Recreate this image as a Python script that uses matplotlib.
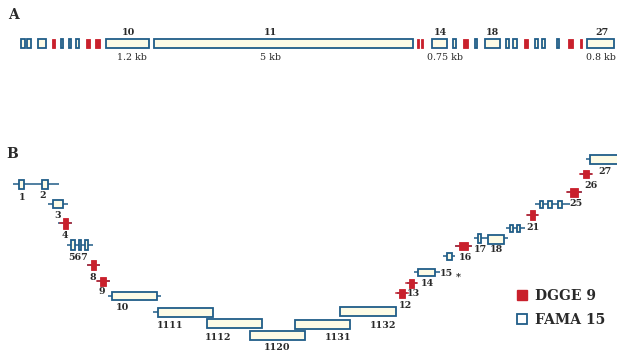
import matplotlib
matplotlib.use("Agg")
from matplotlib import pyplot as plt
from matplotlib.patches import Rectangle, Patch

# ---- panel A: exon map (x positions along the gene, drawing units) ----
a_start = [21, 27, 38, 52, 61, 69, 76, 86, 95, 106, 154, 417, 421, 432, 453,
           463, 475, 485, 506, 513, 524, 535, 542, 557, 568, 580, 587]
a_end = [25, 31, 46, 55, 63, 71, 79, 90, 100, 149, 413, 419, 423, 447, 456,
         468, 477, 500, 509, 517, 528, 538, 545, 559, 573, 582, 614]
# 1 = DGGE (red, filled), 0 = FAMA (blue outline)
a_kind = [0, 0, 0, 1, 0, 0, 0, 1, 1, 0, 0, 1, 1, 0, 0,
          1, 0, 0, 0, 0, 1, 0, 0, 0, 1, 1, 0]
a_top_text = ["10", "11", "14", "18", "27"]
a_top_x = [128, 270, 440, 492, 602]
a_size_text = ["1.2 kb", "5 kb", "0.75 kb", "0.8 kb"]
a_size_x = [132, 270, 445, 601]

# ---- panel B: staircase layout of the amplified fragments ----
b_x0 = [19, 42, 53, 63, 71, 79, 85, 91, 100, 112, 158, 207, 250, 295, 340,
        399, 409, 418, 447, 459, 478, 488, 510, 517, 530, 540, 548, 558, 570, 583, 590]
b_x1 = [24, 48, 63, 68, 75, 80.5, 88, 96, 106, 157, 213, 262, 305, 350, 396,
        405, 414, 435, 452, 468, 481, 504, 513, 520, 535, 543, 552, 562, 578, 589, 622]
b_y = [184, 184, 204, 223, 245, 245, 245, 265, 281, 296, 312, 323.5, 335, 324, 311,
       293, 283, 272, 256, 246, 238, 239, 228, 228, 215, 204, 204, 204, 192, 174, 159]
b_h = [9, 9, 8, 11, 10, 10, 10, 10, 9, 8, 9, 9, 9, 9, 9,
       9, 9, 7, 7, 8, 9, 9, 7, 7, 10, 7, 7, 7, 9, 8, 9]
b_kind = [0, 0, 0, 1, 0, 0, 0, 1, 1, 0, 0, 0, 0, 0, 0,
          1, 1, 0, 0, 1, 0, 0, 0, 0, 1, 0, 0, 0, 1, 1, 0]
# intron flanks: (x from, x to, y)
b_line_x0 = [13, 48, 58, 67, 87, 97, 108, 153, 397, 407, 414, 443, 455, 474, 506, 527, 535, 567, 580, 586]
b_line_x1 = [59, 68, 72, 93, 100, 110, 161, 158, 407, 417, 440, 455, 472, 508, 525, 538, 570, 582, 592, 617]
b_line_y = [184, 204, 223, 245, 265, 281, 296, 312, 293, 283, 272, 256, 246, 238, 228, 215, 204, 192, 174, 159]
b_text = ["1", "2", "3", "4", "567", "8", "9", "10", "1111", "1112", "1120", "1131", "1132",
          "12", "13", "14", "15", "*", "16", "17", "18", "21", "25", "26", "27"]
b_text_x = [22, 43, 58, 65, 78, 93, 102, 122, 170, 218, 277, 338, 383,
            405, 413, 427, 446, 458, 465, 480, 496, 533, 576, 591, 605]
b_text_y = [197, 196, 216, 236, 258, 277, 291, 307, 325, 337, 347, 337, 325,
            305, 293, 283, 273, 277, 258, 250, 250, 227, 203, 185, 172]

legend_names = ["DGGE 9", "FAMA 15"]

RED = "#c9202c"
BLUE = "#205d88"
CREAM = "#fdfbe6"
TXT = "#2a2a2a"

fig = plt.figure(figsize=(6.17, 3.5), dpi=100)
ax = fig.add_axes([0, 0, 1, 1])
ax.set_xlim(0, 617)
ax.set_ylim(350, 0)
ax.axis("off")

serif = "DejaVu Serif"


def exon(x0, x1, yc, h, kind):
    if kind:
        r = Rectangle((x0, yc - h / 2), x1 - x0, h, facecolor=RED,
                      edgecolor=RED, linewidth=0.6, zorder=3)
    else:
        r = Rectangle((x0, yc - h / 2), x1 - x0, h, facecolor=CREAM,
                      edgecolor=BLUE, linewidth=1.3, zorder=3)
    ax.add_patch(r)


# panel A
ax.text(13, 15, "A", fontsize=10, fontweight="bold", family=serif, color=TXT,
        ha="center", va="center")
for s, e, k in zip(a_start, a_end, a_kind):
    exon(s, e, 43.5, 9, k)
for t, x in zip(a_top_text, a_top_x):
    ax.text(x, 32.5, t, fontsize=6.8, fontweight="bold", family=serif,
            color=TXT, ha="center", va="center")
for t, x in zip(a_size_text, a_size_x):
    ax.text(x, 58, t, fontsize=6.8, family=serif, color=TXT,
            ha="center", va="center")

# panel B
ax.text(12.5, 154, "B", fontsize=10, fontweight="bold", family=serif,
        color=TXT, ha="center", va="center")
for x0, x1, y in zip(b_line_x0, b_line_x1, b_line_y):
    ax.plot([x0, x1], [y, y], color=BLUE, linewidth=1.1, zorder=2,
            solid_capstyle="butt")
for x0, x1, y, h, k in zip(b_x0, b_x1, b_y, b_h, b_kind):
    exon(x0, x1, y, h, k)
    if k:
        # line passes over red exons
        ax.plot([x0 - 3, x1 + 3], [y, y], color=RED, linewidth=1.1, zorder=4)
for t, x, y in zip(b_text, b_text_x, b_text_y):
    ax.text(x, y, t, fontsize=6.8, fontweight="bold", family=serif,
            color=TXT, ha="center", va="center")

handles = [Patch(facecolor=RED, edgecolor=RED),
           Patch(facecolor="white", edgecolor=BLUE, linewidth=1.3)]
ax.legend(handles, legend_names, loc="upper left",
          bbox_to_anchor=(510, 282), bbox_transform=ax.transData,
          frameon=False, handlelength=0.7, handleheight=0.7,
          handletextpad=0.6, labelspacing=0.7, borderpad=0,
          prop={"family": serif, "weight": "bold", "size": 10},
          labelcolor=TXT)

fig.savefig("out.png", dpi=100)
